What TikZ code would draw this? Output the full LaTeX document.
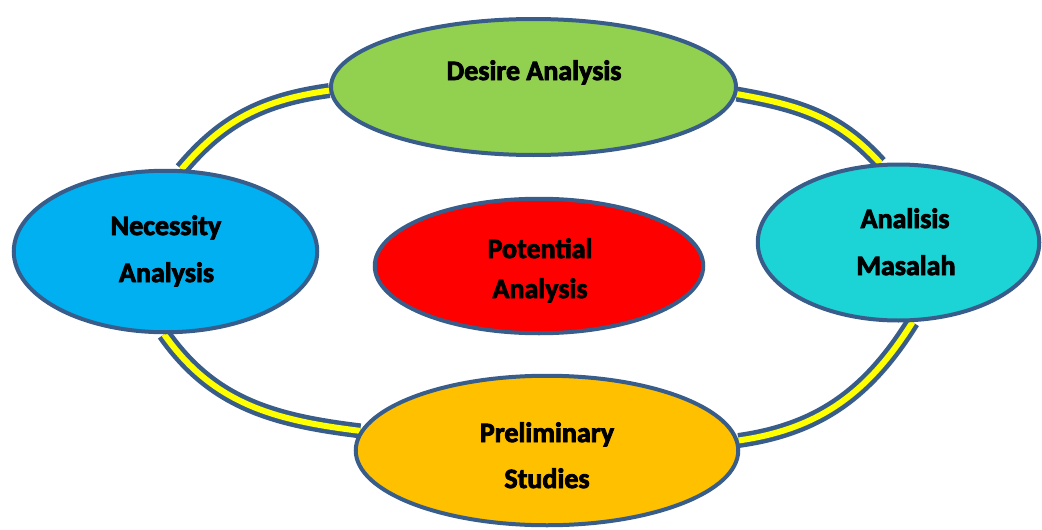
\documentclass[tikz,border=0pt]{standalone}
\usepackage{fontspec}
\setmainfont{Carlito}
\newfontfamily\lblfont[FakeBold=3]{Carlito Bold}
\usetikzlibrary{shapes.geometric,backgrounds}
\definecolor{edgeblue}{HTML}{385D8A}
\definecolor{desgreen}{HTML}{92D050}
\definecolor{necblue}{HTML}{00B0F0}
\definecolor{potred}{HTML}{FF0000}
\definecolor{anacyan}{HTML}{1CD3D5}
\definecolor{preorange}{HTML}{FFC000}
\definecolor{linkyellow}{HTML}{FFFF00}
\tikzset{
  oval/.style={ellipse, draw=edgeblue, line width=4pt, inner sep=0pt},
  lbl/.style={anchor=base, inner sep=0pt, font=\fontsize{28}{30}\selectfont\lblfont, text=black},
  link/.style={draw=edgeblue, line width=4.5pt, double=linkyellow, double distance=6pt, line cap=butt}
}
\begin{document}
\begin{tikzpicture}[x=1pt,y=-1pt]
\useasboundingbox (0,0) rectangle (1042,530);
\node[oval, fill=desgreen, minimum width=405pt, minimum height=136pt] (des) at (533.5,87) {};
\node[oval, fill=necblue, minimum width=303.5pt, minimum height=161.5pt] (nec) at (165.5,251.5) {};
\node[oval, fill=potred, minimum width=328.5pt, minimum height=134.5pt] (pot) at (539,266) {};
\node[oval, fill=anacyan, minimum width=281.5pt, minimum height=156pt] (ana) at (898.5,242.5) {};
\node[oval, fill=preorange, minimum width=382.5pt, minimum height=149.5pt] (pre) at (547,450.5) {};

\node[lbl] (desT) at (534,80) {Desire Analysis};
\node[lbl] (necT1) at (166,235) {Necessity};
\node[lbl] (necT2) at (166.5,282) {Analysis};
\node[lbl] (potT1) at (540,258) {Potential};
\node[lbl] (potT2) at (540,298) {Analysis};
\node[lbl] (anaT1) at (905,228) {Analisis};
\node[lbl] (anaT2) at (906,275) {Masalah};
\node[lbl] (preT1) at (547,442) {Preliminary};
\node[lbl] (preT2) at (547,488) {Studies};

\begin{scope}[on background layer]
\draw[link] (nec.79) to[out=50,in=188] (des.181);
\draw[link] (des.-2) to[out=-10,in=132] (ana.103);
\draw[link] (nec.269) to[out=-55,in=173] (pre.174);
\draw[link] (pre.3) to[out=8,in=-122] (ana.-80);
\end{scope}
\end{tikzpicture}
\end{document}
